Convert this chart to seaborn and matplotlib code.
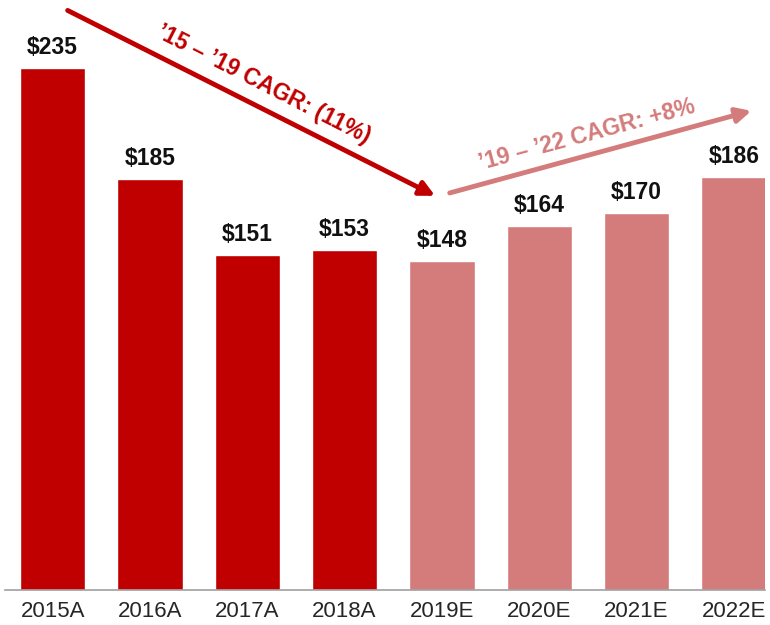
import matplotlib
matplotlib.use("Agg")
import matplotlib.pyplot as plt
import seaborn as sns
import pandas as pd

years = ["2015A", "2016A", "2017A", "2018A", "2019E", "2020E", "2021E", "2022E"]
values = [235, 185, 151, 153, 148, 164, 170, 186]
kind = ["Actual"] * 4 + ["Estimate"] * 4

dark_red = "#C00000"
light_red = "#D47B7B"

df = pd.DataFrame({"year": years, "value": values, "kind": kind})

sns.set_style("white")
plt.rcParams["font.family"] = ["Liberation Sans", "DejaVu Sans"]

fig = plt.figure(figsize=(7.7, 6.25), dpi=100)
ax = fig.add_axes([5 / 770, 35 / 625, 760 / 770, 590 / 625])

sns.barplot(
    data=df, x="year", y="value", hue="kind",
    palette={"Actual": dark_red, "Estimate": light_red},
    dodge=False, width=0.67, legend=False, ax=ax, saturation=1,
)

for i, v in enumerate(values):
    ax.text(i, v + 4, f"${v}", ha="center", va="bottom",
            fontsize=16.5, fontweight="bold", color="#111111")

ax.set_xlim(-0.49, 7.32)
ax.set_ylim(0, 265.7)

# CAGR arrows
ax.annotate("", xy=(3.93, 177.5), xytext=(0.154, 261),
            arrowprops=dict(arrowstyle="-|>", lw=3.5, color=dark_red,
                            mutation_scale=22, shrinkA=0, shrinkB=0))
ax.annotate("", xy=(7.18, 215.8), xytext=(4.08, 178.8),
            arrowprops=dict(arrowstyle="-|>", lw=3.5, color=light_red,
                            mutation_scale=22, shrinkA=0, shrinkB=0))

ax.text(2.17, 227.5, "\u201915 \u2013 \u201919 CAGR: (11%)", rotation=-27,
        rotation_mode="anchor", ha="center", va="center",
        fontsize=16.5, fontweight="bold", color=dark_red)
ax.text(5.49, 205, "\u201919 \u2013 \u201922 CAGR: +8%", rotation=15,
        rotation_mode="anchor", ha="center", va="center",
        fontsize=16.5, fontweight="bold", color=light_red)

ax.set_xlabel("")
ax.set_ylabel("")
ax.set_yticks([])
ax.tick_params(axis="x", length=0, labelsize=16, colors="#262626", pad=8)
for s in ["top", "right", "left"]:
    ax.spines[s].set_visible(False)
ax.spines["bottom"].set_color("#A0A0A0")
ax.spines["bottom"].set_linewidth(1.2)

fig.savefig("out.png", dpi=100)
